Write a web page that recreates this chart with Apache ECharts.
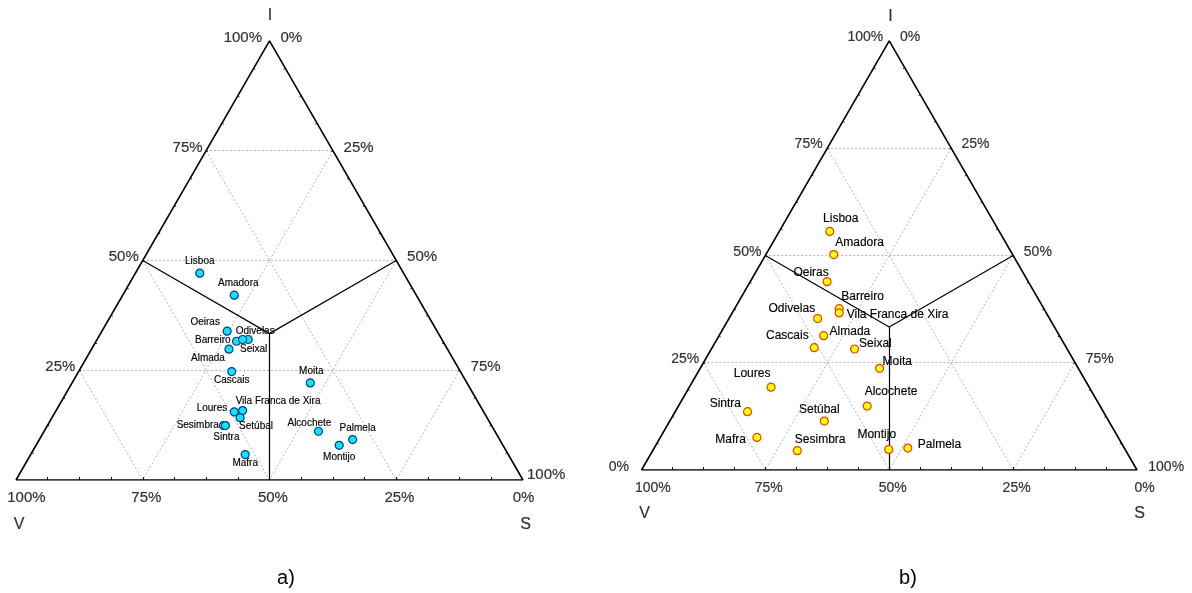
<!DOCTYPE html>
<html>
<head>
<meta charset="utf-8">
<title>Ternary diagrams – Área Metropolitana de Lisboa</title>
<script src="https://cdn.jsdelivr.net/npm/echarts@6/dist/echarts.min.js"></script>
<style>
  html, body { margin: 0; padding: 0; background: #ffffff; }
  #chart { width: 1192px; height: 593px; }
</style>
</head>
<body>
<div id="chart"></div>
<script>
// Municipalities plotted in both diagrams
const municipalities = [
  'Lisboa', 'Amadora', 'Oeiras', 'Odivelas', 'Barreiro', 'Seixal', 'Almada', 'Cascais', 'Moita',
  'Vila Franca de Xira', 'Loures', 'Setúbal', 'Sesimbra', 'Sintra', 'Alcochete', 'Palmela', 'Montijo', 'Mafra'
];

// Diagram a) – shares (%) of I, V and S
const shareI_a = [47.1, 42.1, 33.9, 32.0, 31.6, 32.0, 29.8, 24.7, 22.1, 15.8, 15.5, 14.2, 12.4, 12.4, 11.1, 9.2, 7.9, 5.8];
const shareV_a = [40.2, 35.9, 41.4, 38.2, 40.7, 39.3, 43.1, 45.1, 30.9, 47.4, 49.2, 48.7, 52.9, 52.5, 34.8, 29.0, 32.3, 51.9];
const shareS_a = [12.7, 22.0, 24.7, 29.8, 27.7, 28.7, 27.1, 30.2, 47.0, 36.8, 35.3, 37.1, 34.7, 35.1, 54.1, 61.8, 59.8, 42.3];

// Diagram b) – shares (%) of I, V and S
const shareI_b = [55.6, 50.2, 43.9, 35.3, 37.6, 28.2, 31.3, 28.5, 23.7, 36.6, 19.3, 11.4, 4.5, 13.6, 14.9, 5.1, 4.8, 7.6];
const shareV_b = [34.2, 36.1, 40.6, 46.8, 41.3, 42.9, 47.6, 50.9, 40.1, 41.8, 64.2, 57.4, 66.3, 71.8, 47.0, 43.7, 47.7, 72.9];
const shareS_b = [10.2, 13.7, 15.5, 17.9, 21.1, 28.9, 21.1, 20.6, 36.2, 21.6, 16.5, 31.2, 29.2, 14.6, 38.1, 51.2, 47.5, 19.5];

// Axis tick values (%)
const tickValues = [0, 25, 50, 75, 100];
const gridValues = [25, 50, 75];
const axisNames = ['I', 'V', 'S'];
const captions = ['a)', 'b)'];

const FONT = 'Liberation Sans, Arial, Helvetica, sans-serif';
const H = Math.sqrt(3) / 2;

// ternary (I, V, S) -> cartesian: V at bottom-left, S at bottom-right, I at top
function tern(i, v, s) {
  const t = i + v + s;
  return [(s + i / 2) / t, (i / t) * H];
}

// label placement of each municipality: [align, dx, dy] relative to the marker centre
const placeA = {
  'Lisboa': ['center', 0, -12], 'Amadora': ['center', 4, -12], 'Oeiras': ['center', -22, -9],
  'Odivelas': ['center', 7, -8], 'Barreiro': ['right', -6, -0.5], 'Seixal': ['center', 11, 10],
  'Almada': ['center', -21, 9], 'Cascais': ['center', 0, 9], 'Moita': ['center', 1, -12],
  'Vila Franca de Xira': ['left', -7, -9], 'Loures': ['right', -7, -4], 'Setúbal': ['left', -1, 9],
  'Sesimbra': ['right', -4.5, 0], 'Sintra': ['center', 1, 11.5], 'Alcochete': ['center', -9, -8],
  'Palmela': ['center', 5, -11], 'Montijo': ['center', 0, 12], 'Mafra': ['center', 0, 9]
};
const placeB = {
  'Lisboa': ['center', 11, -12.5], 'Amadora': ['left', 1.5, -12], 'Oeiras': ['center', -16, -9],
  'Odivelas': ['right', -2.5, -9.5], 'Barreiro': ['left', 2, -11.5], 'Seixal': ['left', 4.5, -5.5],
  'Almada': ['left', 6, -4.5], 'Cascais': ['right', -5.5, -12], 'Moita': ['left', 3, -6.5],
  'Vila Franca de Xira': ['left', 7.5, 2], 'Loures': ['center', -19, -13], 'Setúbal': ['center', -5, -11],
  'Sesimbra': ['left', -2.5, -11.5], 'Sintra': ['right', -6.5, -7.5], 'Alcochete': ['left', -2.5, -14],
  'Palmela': ['left', 10, -3], 'Montijo': ['center', -12, -15], 'Mafra': ['right', -11, 2.5]
};

const panels = [
  {
    rect: { left: 16, top: 40.9, width: 507, height: 439.1 },
    I: shareI_a, V: shareV_a, S: shareS_a, place: placeA,
    pointFont: 10, tickFont: 15,
    fill: '#10e4ff', border: '#063c8a',
    // tick label offsets per axis [value -> [dx, dy]]
    iTicks: { 100: [-7.5, -3], 75: [-3.5, -3], 50: [-4, -4], 25: [-4, -3.5] },
    sTicks: { 0: [11, -3], 25: [10.7, -3], 50: [10.8, -3.8], 75: [11, -3.5], 100: [4, -5] },
    vTicks: { 100: [10.4, 18.3], 75: [3.6, 18.3], 50: [3.4, 18.3], 25: [3.2, 18.3], 0: [0.6, 18.3] },
    names: [[0.5, -25.5], [3, 45], [2.7, 45]],
    caption: [286, 578]
  },
  {
    rect: { left: 641.5, top: 40.9, width: 495.5, height: 429.1 },
    I: shareI_b, V: shareV_b, S: shareS_b, place: placeB,
    pointFont: 12, tickFont: 14,
    fill: '#ffff00', border: '#e8420a',
    iTicks: { 100: [-6, -3.7], 75: [-4.7, -4], 50: [-4, -3], 25: [-4.2, -3.7], 0: [-12.5, -2.7] },
    sTicks: { 0: [10.7, -3.7], 25: [10.3, -4], 50: [10.7, -3], 75: [10.6, -3.7], 100: [11.3, -2.7] },
    vTicks: { 100: [11.3, 18.3], 75: [3.3, 18.3], 50: [3.5, 18.3], 25: [3.5, 18.3], 0: [7.5, 18.3] },
    names: [[1.3, -24.5], [3, 44], [2.6, 44]],
    caption: [908, 578]
  }
];

const grids = [], xAxes = [], yAxes = [], series = [], graphics = [];

panels.forEach((p, k) => {
  grids.push(Object.assign({ containLabel: false }, p.rect));
  xAxes.push({ type: 'value', gridIndex: k, min: 0, max: 1, show: false });
  yAxes.push({ type: 'value', gridIndex: k, min: 0, max: H, show: false });
  const axisRef = { xAxisIndex: k, yAxisIndex: k };
  const unit = 1 / p.rect.width; // data units per pixel

  // dotted reference lines at 25 / 50 / 75 %
  const gridLines = [];
  gridValues.forEach(v => {
    gridLines.push({ coords: [tern(v, 100 - v, 0), tern(v, 0, 100 - v)] });
    gridLines.push({ coords: [tern(100 - v, v, 0), tern(0, v, 100 - v)] });
    gridLines.push({ coords: [tern(100 - v, 0, v), tern(0, 100 - v, v)] });
  });
  series.push(Object.assign({
    type: 'lines', coordinateSystem: 'cartesian2d', silent: true, z: 1,
    lineStyle: { color: '#b4b4b4', width: 1, type: [2, 2], opacity: 1 },
    data: gridLines
  }, axisRef));

  // boundaries of the dominance regions meeting at the centroid
  const c = tern(1, 1, 1);
  series.push(Object.assign({
    type: 'lines', coordinateSystem: 'cartesian2d', silent: true, z: 3,
    lineStyle: { color: '#000', width: 1.2, opacity: 1 },
    data: [
      { coords: [tern(50, 50, 0), c] },
      { coords: [tern(50, 0, 50), c] },
      { coords: [c, tern(0, 50, 50)] }
    ]
  }, axisRef));

  // small inward ticks along the three edges
  const ticks = [];
  const baseLen = 3 * unit, sideLen = 2 * unit;
  for (let j = 1; j < 16; j++) {
    const f = j * 100 / 16;
    const b = tern(0, 100 - f, f);
    ticks.push({ coords: [b, [b[0], b[1] + baseLen]] });
    const l = tern(f, 100 - f, 0);
    ticks.push({ coords: [l, [l[0] + sideLen * H, l[1] - sideLen * 0.5]] });
    const r = tern(f, 0, 100 - f);
    ticks.push({ coords: [r, [r[0] - sideLen * H, r[1] - sideLen * 0.5]] });
  }
  series.push(Object.assign({
    type: 'lines', coordinateSystem: 'cartesian2d', silent: true, z: 3,
    lineStyle: { color: '#000', width: 1, opacity: 0.9 },
    data: ticks
  }, axisRef));

  // triangle outline
  series.push(Object.assign({
    type: 'line', silent: true, z: 4, symbol: 'none', animation: false,
    lineStyle: { color: '#000', width: 1.6 },
    data: [tern(0, 100, 0), tern(0, 0, 100), tern(100, 0, 0), tern(0, 100, 0)]
  }, axisRef));

  // municipalities
  const pts = municipalities.map((name, n) => {
    const pl = p.place[name];
    return {
      name: name,
      value: tern(p.I[n], p.V[n], p.S[n]),
      label: { align: pl[0], offset: [pl[1], pl[2]] }
    };
  });
  series.push(Object.assign({
    type: 'scatter', silent: true, z: 6, symbol: 'circle', symbolSize: 8,
    itemStyle: { color: p.fill, borderColor: p.border, borderWidth: 1.2, opacity: 1 },
    label: {
      show: true, position: 'inside', formatter: '{b}', color: '#000',
      textBorderColor: '#000', textBorderWidth: 0.15,
      fontFamily: FONT, fontSize: p.pointFont, verticalAlign: 'middle'
    },
    data: pts
  }, axisRef));

  // tick labels and axis names
  const texts = [];
  const addText = (pos, txt, align, off, size) => texts.push({
    name: txt, value: pos,
    label: { align: align, offset: off, fontSize: size }
  });
  tickValues.forEach(v => {
    if (p.iTicks[v]) addText(tern(v, 100 - v, 0), v + '%', 'right', p.iTicks[v], p.tickFont);
    if (p.sTicks[v]) addText(tern(100 - v, 0, v), v + '%', 'left', p.sTicks[v], p.tickFont);
    if (p.vTicks[v]) addText(tern(0, v, 100 - v), v + '%', 'center', p.vTicks[v], p.tickFont);
  });
  addText(tern(100, 0, 0), axisNames[0], 'center', p.names[0], 16);
  addText(tern(0, 100, 0), axisNames[1], 'center', p.names[1], 16);
  addText(tern(0, 0, 100), axisNames[2], 'center', p.names[2], 16);
  series.push(Object.assign({
    type: 'scatter', silent: true, z: 7, symbolSize: 1,
    itemStyle: { color: 'rgba(0,0,0,0)' },
    label: {
      show: true, position: 'inside', formatter: '{b}', color: '#000',
      textBorderColor: '#000', textBorderWidth: 0.2,
      fontFamily: FONT, verticalAlign: 'middle'
    },
    data: texts
  }, axisRef));

  graphics.push({
    type: 'text', x: p.caption[0], y: p.caption[1], silent: true,
    style: {
      text: captions[k], fill: '#000', font: '20px ' + FONT,
      align: 'center', verticalAlign: 'middle', textAlign: 'center', textVerticalAlign: 'middle'
    }
  });
});

const chart = echarts.init(document.getElementById('chart'), null, { renderer: 'canvas' });
chart.setOption({
  animation: false,
  backgroundColor: '#ffffff',
  grid: grids,
  xAxis: xAxes,
  yAxis: yAxes,
  series: series,
  graphic: graphics
});
</script>
</body>
</html>
